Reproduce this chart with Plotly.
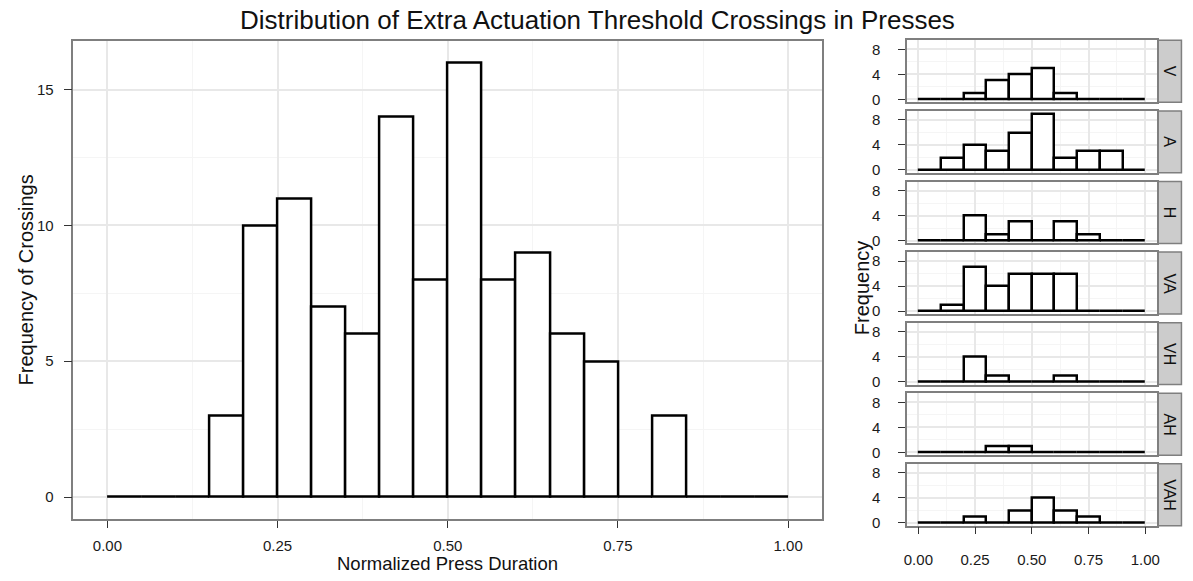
import numpy as np
import plotly.graph_objects as go

W, H = 1193, 581

# Overall histogram: 20 bins of width 0.05 on [0, 1]
main_bin_width = 0.05
main_counts = [0, 0, 0, 3, 10, 11, 7, 6, 14, 8, 16, 8, 9, 6, 5, 0, 3, 0, 0, 0]

# Per-condition histograms: 10 bins of width 0.1 on [0, 1]
facet_bin_width = 0.1
facet_labels = ["V", "A", "H", "VA", "VH", "AH", "VAH"]
counts_V = [0, 0, 1, 3, 4, 5, 1, 0, 0, 0]
counts_A = [0, 2, 4, 3, 6, 9, 2, 3, 3, 0]
counts_H = [0, 0, 4, 1, 3, 0, 3, 1, 0, 0]
counts_VA = [0, 1, 7, 4, 6, 6, 6, 0, 0, 0]
counts_VH = [0, 0, 4, 1, 0, 0, 1, 0, 0, 0]
counts_AH = [0, 0, 0, 1, 1, 0, 0, 0, 0, 0]
counts_VAH = [0, 0, 1, 0, 2, 4, 2, 1, 0, 0]
facet_counts = [counts_V, counts_A, counts_H, counts_VA, counts_VH, counts_AH, counts_VAH]

x_tick_vals = [0, 0.25, 0.5, 0.75, 1.0]
x_tick_text = ["0.00", "0.25", "0.50", "0.75", "1.00"]
main_y_ticks = [0, 5, 10, 15]
facet_y_ticks = [0, 4, 8]

title_text = "Distribution of Extra Actuation Threshold Crossings in Presses"
main_x_title = "Normalized Press Duration"
main_y_title = "Frequency of Crossings"
facet_y_title = "Frequency"

FONT = "Liberation Sans, Arial, Helvetica, sans-serif"
BORDER = "#7f7f7f"
GRID = "#e8e8e8"
GRID_MINOR = "#f5f5f5"
STRIP_FILL = "#cccccc"
TICK_FONT = dict(family=FONT, size=15, color="#1a1a1a")
BAR_STYLE = dict(color="white", line=dict(color="black", width=2.5))


def px_x(p):
    return p / W


def px_y(p):
    return 1 - p / H


def bin_centers(width, n):
    return np.arange(n) * width + width / 2


def axis_common():
    return dict(
        showline=True, mirror=True, linecolor=BORDER, linewidth=1.5,
        showgrid=True, gridcolor=GRID, gridwidth=1.5,
        zeroline=False, ticks="outside", tickcolor="#333333",
        tickfont=dict(TICK_FONT),
        fixedrange=True,
    )


fig = go.Figure()
layout = {}

# ---- main panel ----
fig.add_trace(go.Bar(
    x=bin_centers(main_bin_width, len(main_counts)), y=main_counts,
    width=main_bin_width, xaxis="x", yaxis="y",
    marker=BAR_STYLE, showlegend=False,
))
layout["xaxis"] = dict(
    axis_common(), domain=[px_x(70.7), px_x(823.3)], anchor="y",
    range=[-0.05, 1.05], tickvals=x_tick_vals, ticktext=x_tick_text,
    ticklen=7, ticklabelstandoff=5,
    minor=dict(showgrid=True, gridcolor=GRID_MINOR, gridwidth=1.2, dtick=0.125, tick0=0.125),
)
layout["yaxis"] = dict(
    axis_common(), domain=[px_y(523.3), px_y(41)], anchor="x",
    range=[-0.8, 16.8], tickvals=main_y_ticks, ticklen=8, ticklabelstandoff=7,
    minor=dict(showgrid=True, gridcolor=GRID_MINOR, gridwidth=1.2, dtick=2.5, tick0=2.5),
)

# ---- facet panels ----
facet_left, facet_right = 908.6, 1159.4
strip_left, strip_right = 1160.6, 1184.4
top0, pitch, height = 40.7, 71.2, 62.4
shapes = []
annotations = []
n_facets = len(facet_labels)
for i, (label, counts) in enumerate(zip(facet_labels, facet_counts)):
    k = i + 2
    xa, ya = f"x{k}", f"y{k}"
    top = top0 + pitch * i
    bottom = top + height
    fig.add_trace(go.Bar(
        x=bin_centers(facet_bin_width, len(counts)), y=counts,
        width=facet_bin_width, xaxis=xa, yaxis=ya,
        marker=BAR_STYLE, showlegend=False,
    ))
    last = i == n_facets - 1
    layout[f"xaxis{k}"] = dict(
        axis_common(), domain=[px_x(facet_left), px_x(facet_right)], anchor=ya,
        range=[-0.05, 1.05], tickvals=x_tick_vals, ticktext=x_tick_text,
        showticklabels=last, ticks="outside" if last else "", ticklen=7,
        ticklabelstandoff=13,
        minor=dict(showgrid=True, gridcolor=GRID_MINOR, gridwidth=1.2, dtick=0.125, tick0=0.125),
    )
    layout[f"yaxis{k}"] = dict(
        axis_common(), domain=[px_y(bottom), px_y(top)], anchor=xa,
        range=[-0.45, 9.45], tickvals=facet_y_ticks, ticklen=7, ticklabelstandoff=15,
        minor=dict(showgrid=True, gridcolor=GRID_MINOR, gridwidth=1.2, dtick=4, tick0=2),
    )
    # strip label on the right side
    shapes.append(dict(
        type="rect", xref="paper", yref="paper",
        x0=px_x(strip_left), x1=px_x(strip_right), y0=px_y(bottom), y1=px_y(top),
        fillcolor=STRIP_FILL, line=dict(color=BORDER, width=1.5), layer="below",
    ))
    annotations.append(dict(
        text=label, xref="paper", yref="paper",
        x=px_x((strip_left + strip_right) / 2), y=px_y((top + bottom) / 2),
        showarrow=False, textangle=90,
        font=dict(family=FONT, size=16, color="#111111"),
        xanchor="center", yanchor="middle",
    ))

# ---- titles ----
annotations += [
    dict(text=title_text, xref="paper", yref="paper", x=px_x(598), y=px_y(20),
         showarrow=False, xanchor="center", yanchor="middle",
         font=dict(family=FONT, size=26, color="#111111")),
    dict(text=main_x_title, xref="paper", yref="paper", x=px_x(447), y=px_y(568),
         showarrow=False, xanchor="center", yanchor="middle",
         font=dict(family=FONT, size=18.5, color="#111111")),
    dict(text=main_y_title, xref="paper", yref="paper", x=px_x(23), y=px_y(282),
         showarrow=False, xanchor="center", yanchor="middle", textangle=-90,
         font=dict(family=FONT, size=20, color="#111111")),
    dict(text=facet_y_title, xref="paper", yref="paper", x=px_x(863), y=px_y(290),
         showarrow=False, xanchor="center", yanchor="middle", textangle=-90,
         font=dict(family=FONT, size=20, color="#111111")),
]

fig.update_layout(
    width=W, height=H,
    margin=dict(l=0, r=0, t=0, b=0),
    paper_bgcolor="white", plot_bgcolor="white",
    font=dict(family=FONT, size=15, color="#1a1a1a"),
    shapes=shapes, annotations=annotations,
    showlegend=False, bargap=0,
    **layout,
)

fig.write_html("out.html", config=dict(displayModeBar=False))
